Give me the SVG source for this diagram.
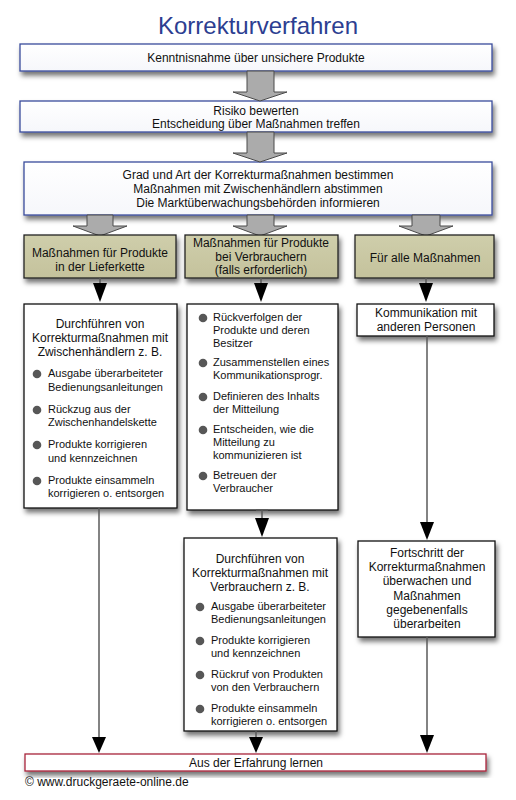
<svg xmlns="http://www.w3.org/2000/svg" width="516" height="800" viewBox="0 0 516 800">
<defs>
<filter id="sh" x="-10%" y="-20%" width="130%" height="160%">
<feDropShadow dx="2" dy="4" stdDeviation="2.5" flood-color="#000" flood-opacity="0.55"/>
</filter>
<linearGradient id="olive" x1="0" y1="0" x2="0" y2="1">
<stop offset="0" stop-color="#cfceab"/>
<stop offset="1" stop-color="#c4c29c"/>
</linearGradient>
<linearGradient id="wb" x1="0" y1="0" x2="0" y2="1">
<stop offset="0" stop-color="#ffffff"/>
<stop offset="1" stop-color="#f6f7fb"/>
</linearGradient>
</defs>
<style>
text{font-family:"Liberation Sans",Arial,sans-serif;fill:#111}
.t{font-size:12px;text-anchor:middle}
.b{font-size:11px}
.blue{fill:url(#wb);stroke:#3a4c9c;stroke-width:1.3}
.wht{fill:#fff;stroke:#111;stroke-width:1.3}
.olv{fill:url(#olive);stroke:#222;stroke-width:1.3}
.red{fill:#fff;stroke:#a8243c;stroke-width:1.3}
.garr{fill:#ababab;stroke:#4a4a4a;stroke-width:1}
.ln{stroke:#5a5a5a;stroke-width:1.5;fill:none}
.hd{fill:#000}
.dot{fill:#575757}
</style>
<rect width="516" height="800" fill="#fff"/>
<text x="258" y="34" style="font-size:24px;text-anchor:middle;fill:#2c3e91">Korrekturverfahren</text>

<g id="n1">
<rect class="blue" x="20" y="44" width="472" height="27" filter="url(#sh)"/>
<text class="t" x="256" y="62">Kenntnisnahme über unsichere Produkte</text>
</g>
<g id="n2">
<rect class="blue" x="20" y="101" width="472" height="31" filter="url(#sh)"/>
<text class="t" x="256" y="115">Risiko bewerten</text>
<text class="t" x="256" y="128">Entscheidung über Maßnahmen treffen</text>
</g>
<g id="n3">
<rect class="blue" x="24" y="162" width="468" height="53" filter="url(#sh)"/>
<text class="t" x="258" y="179">Grad und Art der Korrekturmaßnahmen bestimmen</text>
<text class="t" x="258" y="193">Maßnahmen mit Zwischenhändlern abstimmen</text>
<text class="t" x="258" y="207">Die Marktüberwachungsbehörden informieren</text>
</g>

<g id="bigarrows">
<polygon class="garr" points="247,71 274,71 274,92 287,92 260,101 233,92 247,92"/>
<polygon class="garr" points="247,132 274,132 274,153 287,153 260,162 233,153 247,153"/>
<polygon class="garr" points="87,215 113,215 113,226 127,226 100,236 73,226 87,226"/>
<polygon class="garr" points="247,215 274,215 274,226 287,226 260,236 233,226 247,226"/>
<polygon class="garr" points="412,215 440,215 440,226 453,226 426,236 399,226 412,226"/>
</g>

<g id="nA">
<rect class="olv" x="24" y="235" width="152" height="43" filter="url(#sh)"/>
<text class="t" x="100" y="257">Maßnahmen für Produkte</text>
<text class="t" x="100" y="271">in der Lieferkette</text>
</g>
<g id="nB">
<rect class="olv" x="185" y="235" width="153" height="43" filter="url(#sh)"/>
<text class="t" x="261" y="247">Maßnahmen für Produkte</text>
<text class="t" x="261" y="261">bei Verbrauchern</text>
<text class="t" x="261" y="274">(falls erforderlich)</text>
</g>
<g id="nC">
<rect class="olv" x="355" y="235" width="139" height="43" filter="url(#sh)"/>
<text class="t" x="425" y="262">Für alle Maßnahmen</text>
</g>

<g id="nD">
<rect class="wht" x="24" y="304" width="153" height="204" filter="url(#sh)"/>
<text class="t" x="100" y="328">Durchführen von</text>
<text class="t" x="100" y="342">Korrekturmaßnahmen mit</text>
<text class="t" x="100" y="356">Zwischenhändlern z. B.</text>
<circle class="dot" cx="37" cy="374" r="4.3"/>
<text class="b" x="48" y="377">Ausgabe überarbeiteter</text>
<text class="b" x="48" y="391">Bedienungsanleitungen</text>
<circle class="dot" cx="37" cy="410" r="4.3"/>
<text class="b" x="48" y="413">Rückzug aus der</text>
<text class="b" x="48" y="426">Zwischenhandelskette</text>
<circle class="dot" cx="37" cy="445" r="4.3"/>
<text class="b" x="48" y="448">Produkte korrigieren</text>
<text class="b" x="48" y="462">und kennzeichnen</text>
<circle class="dot" cx="37" cy="481" r="4.3"/>
<text class="b" x="48" y="484">Produkte einsammeln</text>
<text class="b" x="48" y="497">korrigieren o. entsorgen</text>
</g>

<g id="nE">
<rect class="wht" x="187" y="304" width="151" height="206" filter="url(#sh)"/>
<circle class="dot" cx="203" cy="318" r="4.3"/>
<text class="b" x="213" y="321">Rückverfolgen der</text>
<text class="b" x="213" y="334">Produkte und deren</text>
<text class="b" x="213" y="347">Besitzer</text>
<circle class="dot" cx="203" cy="363" r="4.3"/>
<text class="b" x="213" y="366">Zusammenstellen eines</text>
<text class="b" x="213" y="379">Kommunikationsprogr.</text>
<circle class="dot" cx="203" cy="397" r="4.3"/>
<text class="b" x="213" y="400">Definieren des Inhalts</text>
<text class="b" x="213" y="413">der Mitteilung</text>
<circle class="dot" cx="203" cy="430" r="4.3"/>
<text class="b" x="213" y="433">Entscheiden, wie die</text>
<text class="b" x="213" y="446">Mitteilung zu</text>
<text class="b" x="213" y="459">kommunizieren ist</text>
<circle class="dot" cx="203" cy="476" r="4.3"/>
<text class="b" x="213" y="479">Betreuen der</text>
<text class="b" x="213" y="492">Verbraucher</text>
</g>

<g id="nF">
<rect class="wht" x="357" y="304" width="137" height="32" filter="url(#sh)"/>
<text class="t" x="426" y="317">Kommunikation mit</text>
<text class="t" x="426" y="331">anderen Personen</text>
</g>

<g id="nG">
<rect class="wht" x="184" y="538" width="153" height="193" filter="url(#sh)"/>
<text class="t" x="260" y="563">Durchführen von</text>
<text class="t" x="260" y="577">Korrekturmaßnahmen mit</text>
<text class="t" x="260" y="591">Verbrauchern z. B.</text>
<circle class="dot" cx="200" cy="607" r="4.3"/>
<text class="b" x="211" y="610">Ausgabe überarbeiteter</text>
<text class="b" x="211" y="623">Bedienungsanleitungen</text>
<circle class="dot" cx="200" cy="641" r="4.3"/>
<text class="b" x="211" y="644">Produkte korrigieren</text>
<text class="b" x="211" y="657">und kennzeichnen</text>
<circle class="dot" cx="200" cy="675" r="4.3"/>
<text class="b" x="211" y="678">Rückruf von Produkten</text>
<text class="b" x="211" y="691">von den Verbrauchern</text>
<circle class="dot" cx="200" cy="709" r="4.3"/>
<text class="b" x="211" y="712">Produkte einsammeln</text>
<text class="b" x="211" y="725">korrigieren o. entsorgen</text>
</g>

<g id="nH">
<rect class="wht" x="358" y="541" width="137" height="96" filter="url(#sh)"/>
<text class="t" x="427" y="557">Fortschritt der</text>
<text class="t" x="427" y="571">Korrekturmaßnahmen</text>
<text class="t" x="427" y="585">überwachen und</text>
<text class="t" x="427" y="600">Maßnahmen</text>
<text class="t" x="427" y="614">gegebenenfalls</text>
<text class="t" x="427" y="628">überarbeiten</text>
</g>

<g id="nI">
<rect class="red" x="25" y="754" width="461" height="17" filter="url(#sh)"/>
<text class="t" x="256" y="767">Aus der Erfahrung lernen</text>
</g>

<g id="connectors">
<line class="ln" x1="100" y1="278" x2="100" y2="285"/>
<polygon class="hd" points="93,283 107,283 100,302"/>
<line class="ln" x1="261" y1="278" x2="261" y2="285"/>
<polygon class="hd" points="254,283 268,283 261,302"/>
<line class="ln" x1="426" y1="278" x2="426" y2="285"/>
<polygon class="hd" points="419,283 433,283 426,302"/>
<line class="ln" x1="99" y1="508" x2="99" y2="740"/>
<polygon class="hd" points="92,737 106,737 99,753"/>
<line class="ln" x1="262" y1="510" x2="262" y2="520"/>
<line class="ln" x1="256" y1="510" x2="268" y2="510"/>
<polygon class="hd" points="255,518 269,518 262,537"/>
<line class="ln" x1="256" y1="731" x2="256" y2="740"/>
<polygon class="hd" points="249,737 263,737 256,753"/>
<line class="ln" x1="427" y1="336" x2="427" y2="524"/>
<polygon class="hd" points="420,522 434,522 427,540"/>
<line class="ln" x1="427" y1="637" x2="427" y2="738"/>
<polygon class="hd" points="420,735 434,735 427,753"/>
</g>

<text x="25" y="786" style="font-size:12px">© www.druckgeraete-online.de</text>
</svg>
